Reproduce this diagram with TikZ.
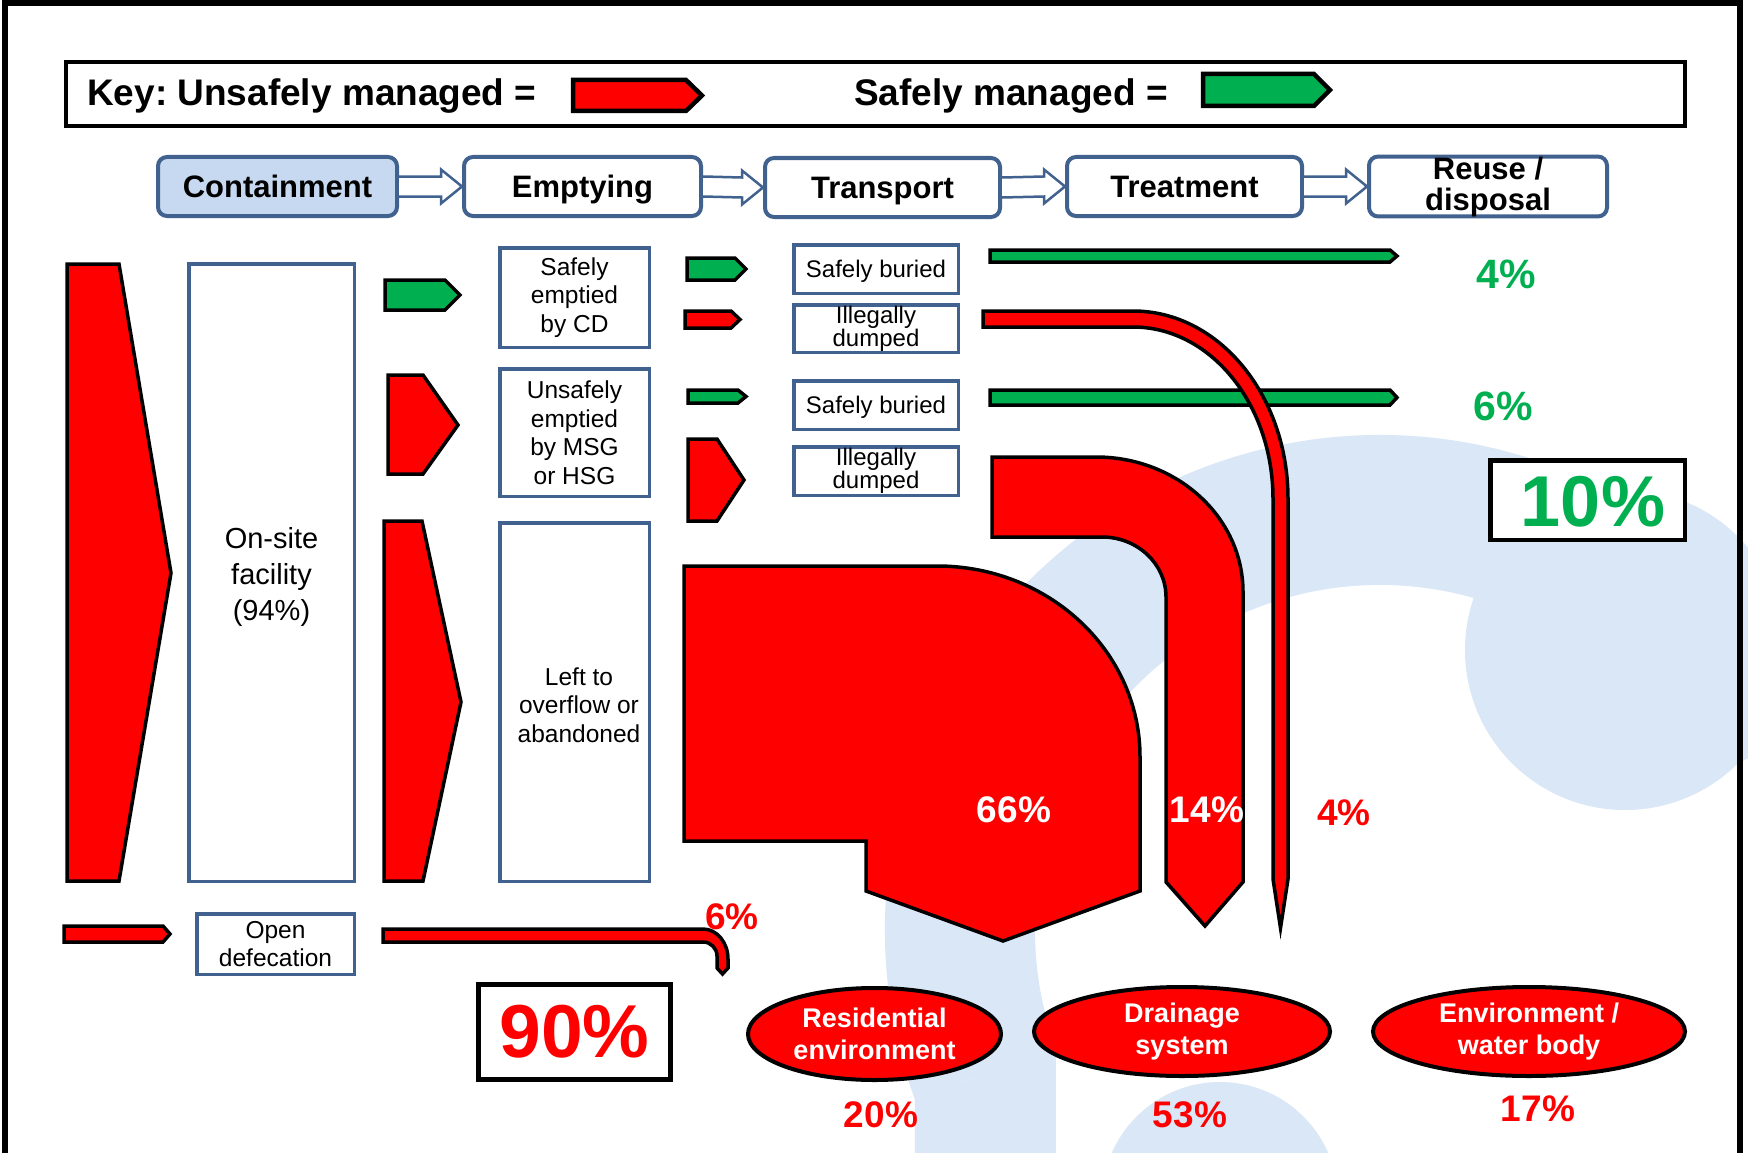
\documentclass[tikz,border=0pt]{standalone}
\usepackage{fontspec}
\setmainfont{Liberation Sans}
\usetikzlibrary{shapes.geometric,calc}
\definecolor{stageblue}{HTML}{41628F}
\definecolor{contfill}{HTML}{C6D9F1}
\definecolor{flowred}{HTML}{FF0000}
\definecolor{flowgreen}{HTML}{00B050}
\definecolor{wmblue}{HTML}{D9E7F7}
\frenchspacing
\begin{document}
\begin{tikzpicture}[x=1pt,y=-1pt,
  keytext/.style={font=\fontsize{37}{44}\selectfont\bfseries, inner sep=0pt},
  stagebox/.style={draw=stageblue, line width=4pt, rounded corners=9pt, minimum height=59pt, inner sep=0pt, font=\fontsize{31}{31}\selectfont\bfseries, align=center},
  capc/.style={text height=22.3pt, text depth=0pt},
  capd/.style={text height=17.2pt, text depth=0pt},
  infobox/.style={draw=stageblue, line width=3.5pt, fill=white, inner sep=0pt, align=center},
  txtA/.style={font=\fontsize{29}{36}\selectfont, align=center, inner sep=0pt},
  txtB/.style={font=\fontsize{24.5}{28.5}\selectfont},
  txtC/.style={font=\fontsize{24}{21}\selectfont},
  redflow/.style={fill=flowred, draw=black, line width=3.5pt, line join=miter},
  greenflow/.style={fill=flowgreen, draw=black, line width=3.5pt, line join=miter},
  hollow/.style={draw=stageblue, line width=2.5pt, fill=white, line join=miter},
  pct/.style={font=\fontsize{37}{37}\selectfont\bfseries, inner sep=0pt},
  pctred/.style={pct, text=flowred},
  pctwhite/.style={pct, text=white},
  pctgreen/.style={font=\fontsize{41}{41}\selectfont\bfseries, text=flowgreen, inner sep=0pt},
  bigbox/.style={draw=black, fill=white, inner sep=0pt},
  endell/.style={ellipse, draw=black, line width=4pt, fill=flowred, text=white, font=\fontsize{27}{32.5}\selectfont\bfseries, align=center, inner sep=0pt}
]
\useasboundingbox (0,0) rectangle (1748,1153);
\fill[white] (0,0) rectangle (1748,1153);

% watermark
\begin{scope}
\clip (0,0) rectangle (1748,1153);
\fill[wmblue] ($(1380,930)+(160:495)$) arc[start angle=160,end angle=335,radius=495] -- ($(1380,930)+(335:345)$) arc[start angle=335,end angle=160,radius=345] -- cycle;
\fill[wmblue] (914.9,1099.3) -- (914.9,1160) -- (1055.8,1160) -- (1055.8,1048) -- cycle;
\fill[wmblue] (1625,650) circle[radius=160];
\fill[wmblue] (1220,1200) circle[radius=118];
\end{scope}

% frame
\draw[line width=6pt] (5,1170) -- (5,3) -- (1740,3) -- (1740,1170);

% key
\node[draw=black, line width=4pt, fill=white, minimum width=1619pt, minimum height=64pt, inner sep=0pt] (keybox) at (875.5,94) {};
\node[keytext, anchor=base west] (keyu) at (87,106) {Key: Unsafely managed =};
\node[keytext, anchor=base west] (keys) at (854,106) {Safely managed =};
\draw[redflow, line width=4.5pt] (573,80) -- (686,80) -- (702,95.5) -- (686,111) -- (573,111) -- cycle;
\draw[greenflow, line width=4.5pt] (1203,74) -- (1314,74) -- (1330,90) -- (1314,106) -- (1203,106) -- cycle;

% stage boxes
\node[stagebox, capc, fill=contfill, minimum width=239pt] (cont) at (277.5,186.5) {Containment};
\node[stagebox, capc, fill=white, minimum width=237pt] (emp) at (582.5,186.5) {Emptying};
\node[stagebox, capc, fill=white, minimum width=235pt] (trans) at (882.5,187.5) {Transport};
\node[stagebox, capc, fill=white, minimum width=235pt] (treat) at (1184.5,186.5) {Treatment};
\node[stagebox, fill=white, minimum width=238pt] (reuse) at (1488,186.5) {Reuse /\\disposal};
\foreach \a/\b in {cont/emp, emp/trans, trans/treat, treat/reuse}{
  \draw[hollow] ($(\a.east)+(0,-10)$) -- ($(\b.west)+(-21,-10)$) -- ($(\b.west)+(-21,-17)$) -- (\b.west) -- ($(\b.west)+(-21,17)$) -- ($(\b.west)+(-21,10)$) -- ($(\a.east)+(0,10)$);
}

% containment column
\draw[redflow] (67,264) -- (119,264) -- (171,573) -- (119,881) -- (67,881) -- cycle;
\node[infobox, minimum width=165.5pt, minimum height=617.5pt] (onsite) at (271.5,572.5) {};
\node[txtA] (onsitetxt) at (271.5,577) {On-site\\facility\\(94\%)};
\draw[redflow] (64,926) -- (163,926) -- (170,934) -- (163,942) -- (64,942) -- cycle;
\node[infobox, txtB, minimum width=157.5pt, minimum height=60.5pt] (od) at (275.5,944) {Open\\defecation};

% emptying column
\draw[greenflow] (385,280) -- (445,280) -- (460,295) -- (445,310) -- (385,310) -- cycle;
\draw[redflow] (388,375) -- (423,375) -- (458,425) -- (423,474) -- (388,474) -- cycle;
\draw[redflow] (384,521) -- (422,521) -- (461,702) -- (423,881) -- (384,881) -- cycle;
\draw[redflow] (383,929) -- (703,929) arc[start angle=-90,end angle=0,x radius=25,y radius=30] -- (728,968) -- (722.5,974) -- (717,968) -- (717,956) arc[start angle=0,end angle=-90,x radius=14,y radius=14] -- (383,942) -- cycle;
\node[infobox, txtB, minimum width=149.5pt, minimum height=99.5pt] (scd) at (574.5,297.5) {Safely\\emptied\\by CD};
\node[infobox, txtB, minimum width=149.5pt, minimum height=127.5pt] (umsg) at (574.5,432.5) {Unsafely\\emptied\\by MSG\\or HSG};
\node[infobox, minimum width=149.5pt, minimum height=358.5pt] (left) at (574.5,702) {};
\node[txtB, align=center, inner sep=0pt] (lefttxt) at (579,705) {Left to\\overflow or\\abandoned};
\node[pctred] (p6r) at (732,917) {6\%};
\node[bigbox, line width=5pt, minimum width=192pt, minimum height=95pt, font=\fontsize{75}{75}\selectfont\bfseries, text=flowred] (p90) at (574.5,1032) {90\%};

% transport column
\draw[greenflow] (687,258) -- (735,258) -- (746,269) -- (735,280) -- (687,280) -- cycle;
\draw[redflow] (685,311) -- (731,311) -- (740,319.5) -- (731,328) -- (685,328) -- cycle;
\draw[greenflow] (688,390) -- (738,390) -- (746,396.5) -- (738,403) -- (688,403) -- cycle;
\draw[redflow] (688,439) -- (717,439) -- (744,480) -- (717,521) -- (688,521) -- cycle;
\node[infobox, txtC, capd, minimum width=164.5pt, minimum height=48.5pt] (sb1) at (876,269) {Safely buried};
\node[infobox, txtC, minimum width=164.5pt, minimum height=47.5pt] (id1) at (876,328.5) {Illegally\\dumped};
\node[infobox, txtC, capd, minimum width=164.5pt, minimum height=48.5pt] (sb2) at (876,405) {Safely buried};
\node[infobox, txtC, minimum width=164.5pt, minimum height=48.5pt] (id2) at (876,471) {Illegally\\dumped};

% treatment flows
\draw[greenflow] (990,250) -- (1390,250) -- (1397,256) -- (1390,262) -- (990,262) -- cycle;
\draw[greenflow] (990,390) -- (1390,390) -- (1397,397.5) -- (1390,405) -- (990,405) -- cycle;
\draw[redflow] (684,566) -- (937,566) arc[start angle=-90,end angle=0,x radius=203,y radius=191] -- (1140,891) -- (1003,941) -- (866,891) -- (866,841) -- (684,841) -- cycle;
\draw[redflow] (992,457) -- (1096,457) arc[start angle=-90,end angle=0,x radius=147,y radius=135] -- (1243,882) -- (1205,926) -- (1166,882) -- (1166,597) arc[start angle=0,end angle=-90,x radius=64,y radius=60] -- (992,537) -- cycle;
\draw[redflow] (983,311) -- (1133,311) arc[start angle=-90,end angle=0,x radius=155,y radius=188] -- (1288,879) -- (1280.5,928) -- (1273,879) -- (1273,499) arc[start angle=0,end angle=-90,x radius=140,y radius=172] -- (983,327) -- cycle;

% percentages
\node[pctgreen] (p4g) at (1506,274) {4\%};
\node[pctgreen] (p6g) at (1503,406) {6\%};
\node[bigbox, line width=4.5pt, minimum width=194.5pt, minimum height=79.5pt] (b10) at (1587.5,500) {};
\node[font=\fontsize{72}{72}\selectfont\bfseries, text=flowgreen, inner sep=0pt] (p10) at (1593,502) {10\%};
\node[pctwhite] (p66) at (1014,810) {66\%};
\node[pctwhite] (p14) at (1207,810) {14\%};
\node[pctred] (p4r) at (1344,813) {4\%};

% end points
\node[endell, minimum width=253pt, minimum height=92pt] (res) at (874.5,1034) {Residential\\environment};
\node[endell, minimum width=296pt, minimum height=89pt] (drain) at (1182,1031.5) {Drainage\\system};
\node[endell, minimum width=312pt, minimum height=89pt] (env) at (1529,1031.5) {Environment /\\water body};
\node[pctred] (p20) at (881,1115) {20\%};
\node[pctred] (p53) at (1190,1115) {53\%};
\node[pctred] (p17) at (1538,1109) {17\%};
\end{tikzpicture}
\end{document}
